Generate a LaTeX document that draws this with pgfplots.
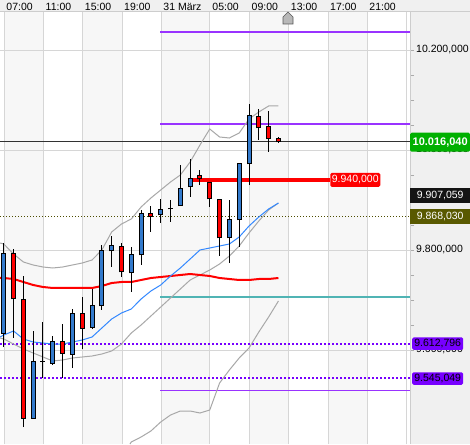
\documentclass[border=0pt]{standalone}
\usepackage{pgfplots}
\pgfplotsset{compat=1.18}
\usepackage{pgfplotstable}
\usepackage{fontspec}
\setmainfont{Liberation Sans}

\definecolor{upblue}{RGB}{51,122,204}
\definecolor{maBlue}{RGB}{51,136,255}
\definecolor{bandgray}{RGB}{168,168,168}
\definecolor{lvlpurple}{RGB}{153,51,255}
\definecolor{dotpurple}{RGB}{119,0,255}
\definecolor{lvlteal}{RGB}{80,180,180}
\definecolor{olivedot}{RGB}{77,77,0}
\definecolor{olivetag}{RGB}{89,89,0}
\definecolor{greentag}{RGB}{0,176,0}
\definecolor{blacktag}{RGB}{20,20,20}
\definecolor{lastc}{RGB}{50,50,50}
\definecolor{panel}{RGB}{240,240,240}
\definecolor{gridc}{RGB}{214,214,214}
\definecolor{bandc}{RGB}{247,247,247}
\definecolor{tickc}{RGB}{170,170,170}
\definecolor{borderc}{RGB}{205,205,205}

% hourly candles: index, open, high, low, close
\pgfplotstableread{
i  o      h      l      c
0  9.634  9.814  9.606  9.792
3  9.464  9.638  9.464  9.578
5  9.574  9.628  9.570  9.618
7  9.592  9.682  9.564  9.672
9  9.646  9.722  9.642  9.688
10 9.688  9.810  9.680  9.798
11 9.798  9.828  9.766  9.808
13 9.754  9.806  9.716  9.790
14 9.790  9.880  9.770  9.872
16 9.870  9.902  9.854  9.880
18 9.888  9.970  9.888  9.922
19 9.926  9.982  9.906  9.942
23 9.824  9.900  9.774  9.860
24 9.860  9.972  9.806  9.972
25 9.972  10.092 9.930  10.068
}\upc
\pgfplotstableread{
i  o      h      l      c
1  9.792  9.802  9.624  9.702
2  9.700  9.748  9.446  9.464
6  9.618  9.652  9.544  9.594
8  9.672  9.706  9.602  9.644
12 9.806  9.814  9.746  9.756
15 9.872  9.888  9.836  9.866
20 9.948  9.960  9.930  9.942
21 9.934  9.934  9.886  9.902
22 9.900  9.900  9.788  9.824
26 10.066 10.082 10.020 10.044
27 10.046 10.078 9.996  10.022
28 10.022 10.026 10.014 10.016
}\downc
\pgfplotstableread{
i  o      h      l      c
4  9.578  9.656  9.544  9.578
17 9.882  9.900  9.856  9.882
}\dojic

% moving average and bands
\pgfplotstableread{
i      red    blue   upper  lower
-0.383 9.744  9.626  9.814  9.624
0      9.744  9.630  9.812  9.622
1      9.742  9.638  9.792  9.612
2      9.736  9.622  9.776  9.602
3      9.730  9.616  9.770  9.594
4      9.726  9.614  9.766  9.586
5      9.724  9.612  9.764  9.578
6      9.724  9.612  9.766  9.580
7      9.724  9.616  9.770  9.584
8      9.724  9.620  9.774  9.586
9      9.724  9.626  9.780  9.588
10     9.728  9.644  9.800  9.592
11     9.734  9.662  9.836  9.598
12     9.736  9.674  9.852  9.612
13     9.736  9.682  9.862  9.634
14     9.740  9.702  9.886  9.650
15     9.744  9.718  9.904  9.668
16     9.746  9.730  9.920  9.686
17     9.748  9.748  9.936  9.704
18     9.750  9.764  9.950  9.722
19     9.752  9.782  9.976  9.740
20     9.750  9.800  10.010 9.750
21     9.748  9.804  10.042 9.760
22     9.744  9.808  10.026 9.772
23     9.742  9.812  10.024 9.788
24     9.740  9.826  10.034 9.808
25     9.740  9.848  10.062 9.834
26     9.742  9.866  10.076 9.858
27     9.742  9.882  10.088 9.880
28     9.744  9.894  10.088 9.894
}\matab
\pgfplotstableread{
i     v
12.87 9.412
13    9.416
14    9.426
15    9.438
16    9.456
17    9.470
18    9.478
19    9.478
20    9.474
21    9.480
22    9.534
23    9.560
24    9.584
25    9.604
26    9.636
27    9.666
28    9.698
}\fartab

\begin{document}
\begin{tikzpicture}[x=1pt,y=1pt]
% grey pane, white plotting area, alternate four-hour columns
\fill[panel] (0,0) rectangle (470,444);
\fill[white] (0,0) rectangle (410,432);
\foreach \a/\b in {4/43, 83/122, 161/209, 249/288, 328/367}
  \fill[bandc] (\a,0) rectangle (\b,432);
% grid, set on pixel centres so it stays crisp
\foreach \gx in {4.5,43.5,82.5,122.5,161.5,209.5,249.5,288.5,328.5,367.5,406.5}
  \draw[gridc, line width=1pt] (\gx,0) -- (\gx,432);
\foreach \gy in {93.5,193.5,293.5,393.5}
  \draw[gridc, line width=1pt] (0,\gy) -- (410,\gy);
\begin{axis}[
  at={(0,0)}, anchor=south west,
  scale only axis, width=410pt, height=432pt,
  xmin=-0.383, xmax=41.41, ymin=9.412, ymax=10.276,
  clip mode=individual,
  axis line style={draw=none},
  xtick={0,4,8,12,16,21,25,29,33,37,41},
  xticklabels={07:00,11:00,15:00,19:00,31 März,05:00,09:00,13:00,17:00,21:00,{}},
  xticklabel pos=right, xtick pos=right,
  xtick style={draw=none},
  xticklabel style={anchor=south west, inner sep=0pt, xshift=2.5pt, yshift=-2.5pt},
  ytick={9.6,9.8,10.0,10.2},
  yticklabels={{9.600,000},{9.800,000},{10.000,000},{10.200,000}},
  minor y tick num=3,
  yticklabel pos=right, ytick pos=right,
  tick align=outside, major tick length=4pt, minor tick length=4pt,
  ytick style={draw=tickc, line width=0.8pt},
  yticklabel style={anchor=west, inner sep=0pt, xshift=2pt},
  tick label style={font=\fontsize{10.5}{12}\selectfont},
  scaled y ticks=false,
]
% horizontal levels
\addplot[lvlpurple, line width=1.5pt] coordinates {(15.95,10.236) (41.41,10.236)};
\addplot[lvlpurple, line width=1.5pt] coordinates {(15.95,10.052) (41.41,10.052)};
\addplot[lvlpurple, line width=1.5pt] coordinates {(15.95,9.519) (41.41,9.519)};
\addplot[lvlteal, line width=2pt] coordinates {(15.95,9.705) (41.41,9.705)};
\addplot[dotpurple, line width=2pt, dash pattern=on 2pt off 2pt] coordinates {(-0.383,9.6128) (41.41,9.6128)};
\addplot[dotpurple, line width=2pt, dash pattern=on 2pt off 2pt] coordinates {(-0.383,9.545) (41.41,9.545)};
\addplot[olivedot, line width=0.8pt, dash pattern=on 1pt off 2pt] coordinates {(-0.383,9.868) (41.41,9.868)};
\addplot[lastc, line width=1pt] coordinates {(-0.383,10.016) (41.41,10.016)};
\addplot[red, line width=4pt] coordinates {(18.88,9.94) (33.26,9.94)};

% bands and averages
\addplot[bandgray, line width=1pt] table[x=i, y=upper] \matab;
\addplot[bandgray, line width=1pt] table[x=i, y=lower] \matab;
\addplot[bandgray, line width=1pt] table[x=i, y=v] \fartab;
\addplot[red, line width=2pt] table[x=i, y=red] \matab;
\addplot[maBlue, line width=1pt] table[x=i, y=blue] \matab;

% wicks
\addplot[draw=none, mark=none, error bars/.cd, y dir=plus, y explicit, error mark=none,
  error bar style={draw=black, line width=1pt}]
  table[x=i, y=l, y error expr=\thisrow{h}-\thisrow{l}] \upc;
\addplot[draw=none, mark=none, error bars/.cd, y dir=plus, y explicit, error mark=none,
  error bar style={draw=black, line width=1pt}]
  table[x=i, y=l, y error expr=\thisrow{h}-\thisrow{l}] \downc;
\addplot[draw=none, mark=none, error bars/.cd, y dir=plus, y explicit, error mark=none,
  error bar style={draw=black, line width=1pt}]
  table[x=i, y=l, y error expr=\thisrow{h}-\thisrow{l}] \dojic;

% bodies: black outline, then fill
\addplot[draw=none, mark=none, error bars/.cd, y dir=plus, y explicit, error mark=none,
  error bar style={draw=black, line width=5pt}]
  table[x=i, y expr=\thisrow{o}-0.001, y error expr=\thisrow{c}-\thisrow{o}+0.002] \upc;
\addplot[draw=none, mark=none, error bars/.cd, y dir=plus, y explicit, error mark=none,
  error bar style={draw=black, line width=5pt}]
  table[x=i, y expr=\thisrow{c}-0.001, y error expr=\thisrow{o}-\thisrow{c}+0.002] \downc;
\addplot[draw=none, mark=none, error bars/.cd, y dir=plus, y explicit, error mark=none,
  error bar style={draw=black, line width=5pt}]
  table[x=i, y expr=\thisrow{o}-0.001, y error expr=0.002] \dojic;
\addplot[draw=none, mark=none, error bars/.cd, y dir=plus, y explicit, error mark=none,
  error bar style={draw=upblue, line width=3pt}]
  table[x=i, y expr=\thisrow{o}+0.001, y error expr=\thisrow{c}-\thisrow{o}-0.002] \upc;
\addplot[draw=none, mark=none, error bars/.cd, y dir=plus, y explicit, error mark=none,
  error bar style={draw=red, line width=3pt}]
  table[x=i, y expr=\thisrow{c}+0.001, y error expr=\thisrow{o}-\thisrow{c}-0.002] \downc;

% anchors of the price tags
\coordinate (tRed)   at (axis cs:33.26,9.94);
\coordinate (tBlack) at (axis cs:41.41,9.909);
\coordinate (tOlive) at (axis cs:41.41,9.867);
\coordinate (tPurA)  at (axis cs:41.41,9.6128);
\coordinate (tPurB)  at (axis cs:41.41,9.543);
\coordinate (tGreen) at (axis cs:41.41,10.0155);
\end{axis}
% frame of the chart pane
\draw[borderc, line width=1pt] (0,432.5) -- (470,432.5);
\draw[borderc, line width=1pt] (410.5,0) -- (410.5,432);
% price tags
\tikzset{tag/.style={inner sep=0pt, anchor=west, minimum width=60pt, rounded corners=1.5pt,
  font=\fontsize{10.5}{12}\selectfont}}
\node[tag, fill=red, text=white, minimum width=50pt, minimum height=14pt] at (tRed) {9.940,000};
\node[tag, fill=blacktag, text=white, minimum height=15pt, rounded corners=0pt] at (tBlack) {9.907,059};
\node[tag, fill=olivetag, text=white, minimum height=15pt, rounded corners=0pt] at (tOlive) {9.868,030};
\node[tag, fill=dotpurple, text=black, minimum width=51pt, minimum height=12.5pt, xshift=2pt] at (tPurA) {9.612,796};
\node[tag, fill=dotpurple, text=black, minimum width=51pt, minimum height=12.5pt, xshift=2pt] at (tPurB) {9.545,049};
\node[tag, fill=greentag, text=white, minimum height=19pt, font=\bfseries\fontsize{11}{12}\selectfont] at (tGreen) {10.016,040};
% time cursor marker
\filldraw[fill=black!28, draw=black!65, line width=0.6pt]
  (288,432) -- (293,427) -- (293,420) -- (283,420) -- (283,427) -- cycle;
\pgfresetboundingbox
\path[use as bounding box] (0,0) rectangle (470,444);
\end{tikzpicture}
\end{document}
